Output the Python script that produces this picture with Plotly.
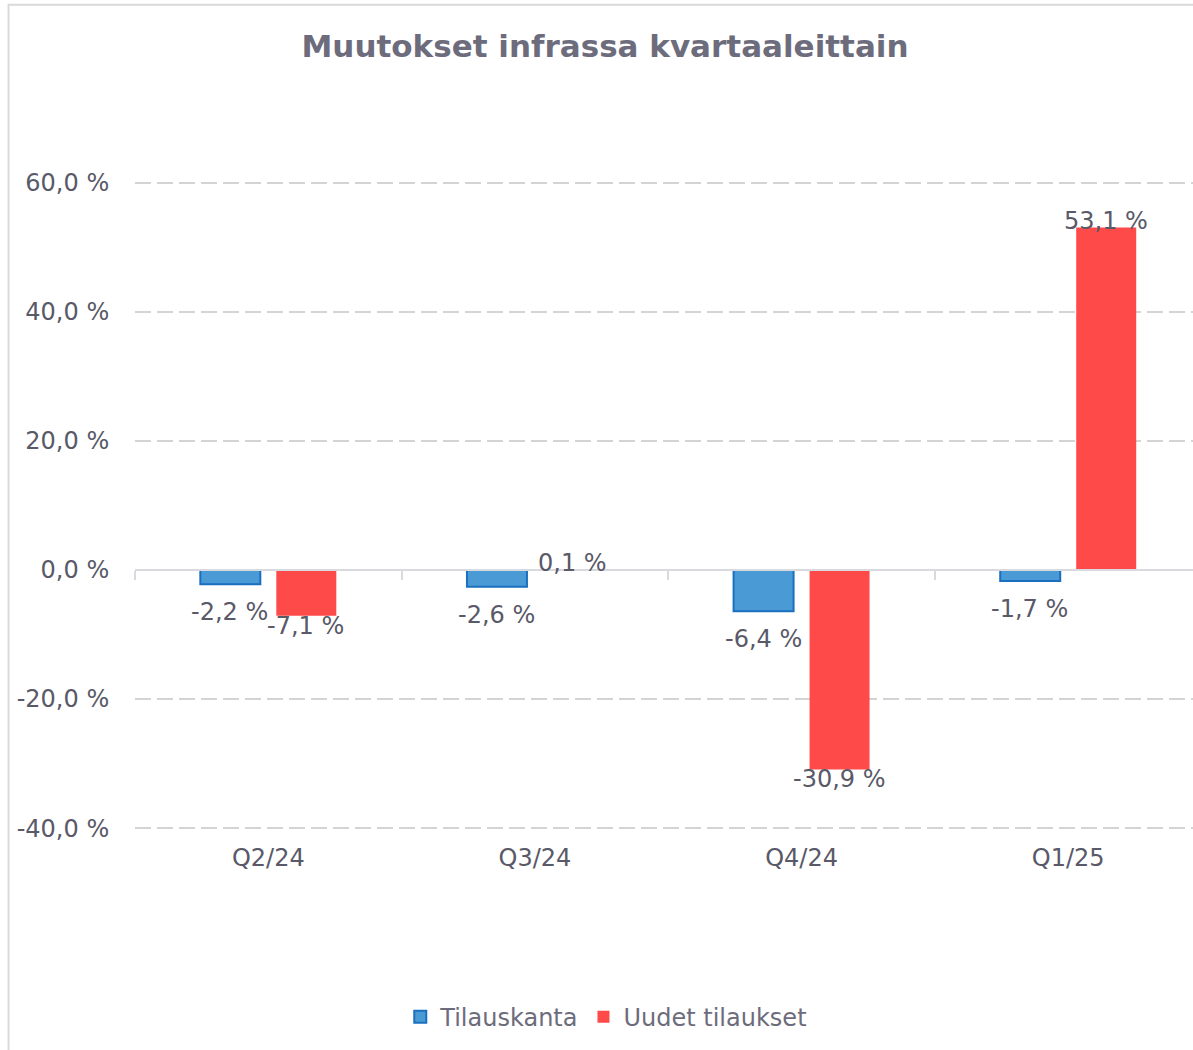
import plotly.graph_objects as go

categories = ["Q2/24", "Q3/24", "Q4/24", "Q1/25"]
tilauskanta = [-2.2, -2.6, -6.4, -1.7]
uudet_tilaukset = [-7.1, 0.1, -30.9, 53.1]
series_names = ["Tilauskanta", "Uudet tilaukset"]
y_ticks = [-40, -20, 0, 20, 40, 60]

def fi(v):
    return f"{v:.1f}".replace(".", ",") + " %"

FONT = "DejaVu Sans"
LABEL_COLOR = "#595968"
TEXT_COLOR = "#6c6c7c"

L, R, T = 134.5, 0, 170.1
H_PLOT = 670.8
B = 1050 - T - H_PLOT
YR = [-42, 62]

fig = go.Figure()
fig.add_trace(go.Bar(
    x=categories, y=tilauskanta, name=series_names[0],
    width=0.225, offset=-0.255,
    marker=dict(color="#4a9bd5", line=dict(color="#1a6fbf", width=2)),
    hoverinfo="skip",
))
fig.add_trace(go.Bar(
    x=categories, y=uudet_tilaukset, name=series_names[1],
    width=0.225, offset=0.03,
    marker=dict(color="#ff4a4a", line=dict(width=0)),
    hoverinfo="skip",
))
# dummy trace to activate the zero-line axis
fig.add_trace(go.Scatter(x=categories, y=[None] * len(categories), xaxis="x2",
                         showlegend=False, hoverinfo="skip", mode="lines"))

annotations = []
for c, v in zip(categories, tilauskanta):
    annotations.append(dict(x=c, y=v, xref="x", yref="y", text=fi(v), showarrow=False,
                            xshift=-38.5, yshift=-28,
                            font=dict(family=FONT, size=24, color=LABEL_COLOR)))
for c, v in zip(categories, uudet_tilaukset):
    annotations.append(dict(x=c, y=v, xref="x", yref="y", text=fi(v), showarrow=False,
                            xshift=37.5, yshift=(6 if v >= 0 else -10),
                            font=dict(family=FONT, size=24, color=LABEL_COLOR)))

zero_pos = (0 - YR[0]) / (YR[1] - YR[0])

fig.update_layout(
    width=1193, height=1050,
    margin=dict(l=L, r=R, t=T, b=B, pad=0),
    paper_bgcolor="white", plot_bgcolor="white",
    barmode="overlay",
    title=dict(text="<b>Muutokset infrassa kvartaaleittain</b>", x=605 / 1193, xref="container",
               xanchor="center", y=1 - 46 / 1050, yanchor="middle", yref="container",
               font=dict(family=FONT, size=31, color=TEXT_COLOR)),
    xaxis=dict(type="category", categoryarray=categories, range=[-0.5, 3.468],
               showgrid=False, zeroline=False, showline=False, ticks="",
               tickfont=dict(family=FONT, size=24, color=LABEL_COLOR)),
    xaxis2=dict(type="category", categoryarray=categories, range=[-0.5, 3.468],
                overlaying="x", anchor="free", position=zero_pos,
                showline=True, linecolor="#d9d9e0", linewidth=2,
                ticks="outside", tickson="boundaries", ticklen=9, tickwidth=2,
                tickcolor="#d9d9e0", showticklabels=False, showgrid=False, zeroline=False),
    yaxis=dict(range=YR, tickvals=y_ticks, ticktext=[fi(v) for v in y_ticks],
               showgrid=True, gridcolor="#d4d4d4", gridwidth=2, griddash="16px,6px",
               zeroline=True, zerolinecolor="#d9d9e0", zerolinewidth=2,
               showline=False, ticks="outside", ticklen=20, tickcolor="rgba(0,0,0,0)",
               tickfont=dict(family=FONT, size=24, color=LABEL_COLOR)),
    legend=dict(orientation="h", x=(606 - L) / (1193 - L), xanchor="center",
                y=(T + H_PLOT - 1017) / H_PLOT, yanchor="middle",
                font=dict(family=FONT, size=24, color=TEXT_COLOR),
                itemwidth=30, traceorder="normal"),
    annotations=annotations,
    shapes=[dict(type="rect", xref="paper", yref="paper",
                 x0=(8 - L) / (1193 - L), x1=1.2,
                 y0=-0.5, y1=(T + H_PLOT - 5) / H_PLOT,
                 line=dict(color="#d9d9d9", width=2), fillcolor="rgba(0,0,0,0)", layer="below")],
)

fig.write_html("out.html", config={"displayModeBar": False},
               post_script="document.body.style.margin='0';document.body.style.overflow='hidden';")
